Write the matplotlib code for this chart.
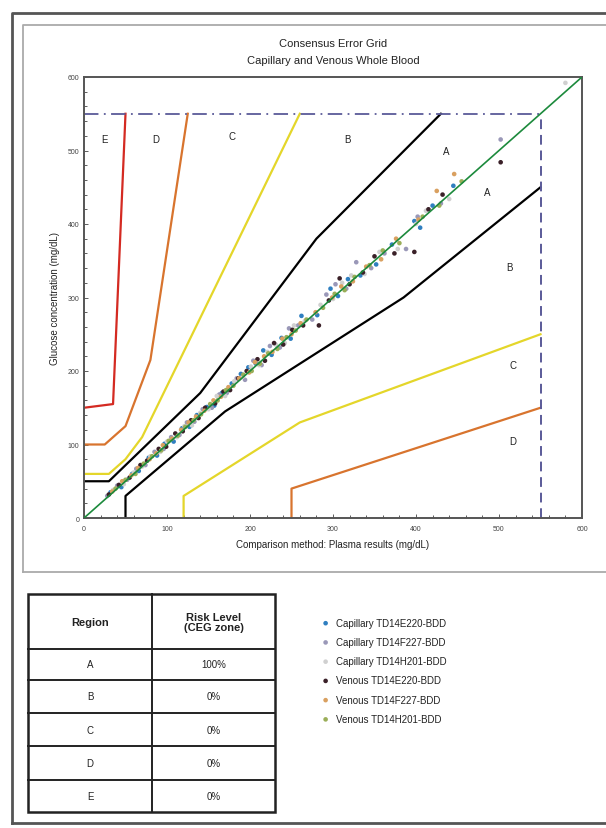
import matplotlib
matplotlib.use("Agg")
import matplotlib.pyplot as plt
from matplotlib.patches import Rectangle

plt.rcParams['font.family'] = ['Liberation Sans', 'DejaVu Sans']

# --- zone boundaries of the consensus error grid (mg/dL) ---
ab_upper_x = [0, 30, 140, 280, 430]
ab_upper_y = [50, 50, 170, 380, 550]
ab_lower_x = [50, 50, 170, 385, 550]
ab_lower_y = [0, 30, 145, 300, 450]
bc_upper_x = [0, 30, 50, 70, 260]
bc_upper_y = [60, 60, 80, 110, 550]
bc_lower_x = [120, 120, 260, 550]
bc_lower_y = [0, 30, 130, 250]
cd_upper_x = [0, 25, 50, 80, 125]
cd_upper_y = [100, 100, 125, 215, 550]
cd_lower_x = [250, 250, 550]
cd_lower_y = [0, 40, 150]
de_upper_x = [0, 35, 50]
de_upper_y = [150, 155, 550]

zone_labels = ["E", "D", "C", "B", "A", "A", "B", "C", "D"]
zone_label_x = [25, 86, 178, 317, 437, 486, 513, 517, 516]
zone_label_y = [516, 516, 520, 516, 499, 443, 341, 208, 105]

# --- measured points (reference vs meter) ---
cap_e220_x = [32, 45, 58, 66, 78, 88, 97, 108, 118, 127, 136, 148, 157, 166, 178, 189, 198,
              207, 216, 226, 238, 249, 262, 281, 297, 306, 318, 333, 352, 371, 398, 405, 420, 445]
cap_e220_y = [35, 42, 60, 64, 82, 85, 101, 104, 122, 124, 140, 151, 153, 170, 183, 196, 205,
              210, 228, 222, 245, 244, 275, 276, 312, 302, 325, 330, 345, 372, 404, 395, 425, 452]
cap_f227_x = [28, 40, 52, 63, 74, 85, 96, 105, 115, 124, 133, 143, 154, 163, 172, 184, 194,
              204, 214, 224, 236, 247, 258, 275, 292, 303, 316, 328, 346, 362, 388, 402, 430, 502]
cap_f227_y = [30, 44, 52, 67, 72, 90, 94, 110, 113, 130, 131, 148, 150, 168, 170, 190, 188,
              214, 208, 234, 232, 258, 262, 270, 304, 318, 312, 348, 340, 360, 366, 410, 428, 515]
cap_h201_x = [35, 48, 60, 70, 80, 92, 100, 112, 121, 130, 140, 150, 160, 170, 181, 191, 201,
              211, 221, 231, 242, 253, 266, 285, 300, 311, 322, 338, 356, 378, 400, 412, 440, 580]
cap_h201_y = [38, 46, 62, 70, 84, 90, 104, 110, 125, 126, 143, 148, 166, 166, 186, 192, 206,
              208, 226, 236, 238, 262, 268, 290, 298, 320, 330, 332, 362, 366, 400, 418, 434, 592]
ven_e220_x = [30, 42, 55, 68, 76, 90, 99, 110, 119, 129, 138, 146, 158, 168, 176, 186, 196,
              209, 218, 229, 240, 251, 264, 283, 295, 308, 320, 336, 350, 374, 398, 415, 432, 502]
ven_e220_y = [32, 45, 55, 72, 78, 94, 97, 115, 118, 133, 136, 150, 156, 172, 174, 190, 200,
              216, 214, 238, 236, 256, 262, 262, 296, 326, 318, 334, 356, 360, 362, 420, 440, 484]
ven_f227_x = [34, 46, 57, 65, 79, 87, 95, 106, 117, 126, 135, 145, 156, 165, 174, 187, 199,
              206, 217, 227, 239, 250, 261, 279, 299, 310, 324, 340, 358, 376, 403, 425, 446]
ven_f227_y = [36, 50, 58, 68, 80, 88, 99, 108, 120, 130, 138, 146, 160, 165, 178, 190, 198,
              212, 220, 226, 244, 250, 265, 280, 300, 315, 322, 342, 352, 380, 406, 445, 468]
ven_h201_x = [38, 50, 62, 72, 82, 93, 102, 113, 122, 132, 141, 152, 161, 171, 180, 192, 202,
              212, 222, 233, 244, 255, 268, 288, 302, 314, 326, 344, 360, 380, 408, 428, 455]
ven_h201_y = [40, 52, 60, 74, 84, 92, 105, 112, 124, 133, 141, 155, 160, 174, 180, 195, 200,
              210, 224, 230, 246, 255, 270, 286, 305, 310, 328, 344, 364, 374, 410, 425, 458]

series_names = ["Capillary TD14E220-BDD", "Capillary TD14F227-BDD", "Capillary TD14H201-BDD",
                "Venous TD14E220-BDD", "Venous TD14F227-BDD", "Venous TD14H201-BDD"]
series_colors = ["#2f7fc0", "#9a98b8", "#d0d0d0", "#3a2028", "#d9a060", "#9aae58"]
series_x = [cap_e220_x, cap_f227_x, cap_h201_x, ven_e220_x, ven_f227_x, ven_h201_x]
series_y = [cap_e220_y, cap_f227_y, cap_h201_y, ven_e220_y, ven_f227_y, ven_h201_y]

regions = ["A", "B", "C", "D", "E"]
risk_levels = ["100%", "0%", "0%", "0%", "0%"]

fig = plt.figure(figsize=(6.06, 8.29), dpi=100)

# overlay in pixel coordinates for frames, titles and the table
ov = fig.add_axes([0, 0, 1, 1], zorder=0)
ov.set_xlim(0, 606)
ov.set_ylim(829, 0)
ov.axis("off")
ov.plot([12, 12, 620], [824, 14, 14], color="#555555", lw=2.0)
ov.plot([12, 620], [824, 824], color="#555555", lw=2.0)
ov.plot([23, 23, 620], [573, 26, 26], color="#aaaaaa", lw=1.3)
ov.plot([23, 620], [573, 573], color="#aaaaaa", lw=1.3)

ov.text(333, 44, "Consensus Error Grid", ha="center", va="center", fontsize=8, color="#222222")
ov.text(333, 61, "Capillary and Venous Whole Blood", ha="center", va="center", fontsize=8,
        color="#222222")

# table
tx0, tx1, tx2 = 28, 152, 275
row_edges = [595, 650, 681, 714, 747, 781, 813]
ov.add_patch(Rectangle((tx0, row_edges[0]), tx2 - tx0, row_edges[-1] - row_edges[0],
                       fill=False, ec="#222222", lw=1.8))
ov.plot([tx1, tx1], [row_edges[0], row_edges[-1]], color="#222222", lw=1.4)
for yy in row_edges[1:-1]:
    ov.plot([tx0, tx2], [yy, yy], color="#222222", lw=1.4)
ov.text((tx0 + tx1) / 2, 623, "Region", ha="center", va="center", fontsize=8, weight="bold",
        color="#222222")
ov.text((tx1 + tx2) / 2, 623, "Risk Level\n(CEG zone)", ha="center", va="center", fontsize=8,
        weight="bold", color="#222222", linespacing=1.1)
for i, (reg, risk) in enumerate(zip(regions, risk_levels)):
    yc = (row_edges[i + 1] + row_edges[i + 2]) / 2
    ov.text((tx0 + tx1) / 2, yc, reg, ha="center", va="center", fontsize=7, color="#222222")
    ov.text((tx1 + tx2) / 2, yc, risk, ha="center", va="center", fontsize=7, color="#222222")

# main grid axes
ax = fig.add_axes([84 / 606, 1 - 519 / 829, 498 / 606, 441 / 829], zorder=1)
ax.set_xlim(0, 600)
ax.set_ylim(0, 600)
ax.set_facecolor("white")

ax.plot(ab_upper_x, ab_upper_y, color="black", lw=1.6)
ax.plot(ab_lower_x, ab_lower_y, color="black", lw=1.6)
ax.plot(bc_upper_x, bc_upper_y, color="#e4d62a", lw=1.6)
ax.plot(bc_lower_x, bc_lower_y, color="#e4d62a", lw=1.6)
ax.plot(cd_upper_x, cd_upper_y, color="#d8742e", lw=1.6)
ax.plot(cd_lower_x, cd_lower_y, color="#d8742e", lw=1.6)
ax.plot(de_upper_x, de_upper_y, color="#d42a22", lw=1.6)

ax.plot([0, 550], [550, 550], color="#5a5a98", lw=1.3, ls=(0, (8, 3, 1, 3)))
ax.plot([550, 550], [0, 550], color="#5a5a98", lw=1.4, ls=(0, (5, 3)))

handles = []
for xs, ys, c, name in zip(series_x, series_y, series_colors, series_names):
    h = ax.scatter(xs, ys, s=11, color=c, edgecolors="none", label=name, zorder=3)
    handles.append(h)

ax.plot([0, 600], [0, 600], color="#1c8a3c", lw=1.2, zorder=4)

for lab, lx, ly in zip(zone_labels, zone_label_x, zone_label_y):
    ax.text(lx, ly, lab, ha="center", va="center", fontsize=7, color="#222222")

ax.set_xticks(range(0, 601, 100))
ax.set_yticks(range(0, 601, 100))
ax.set_xticks(range(0, 601, 20), minor=True)
ax.set_yticks(range(0, 601, 20), minor=True)
ax.tick_params(which="both", direction="in", labelsize=5, colors="#444444", length=3, width=0.6)
ax.tick_params(which="minor", length=2)
ax.tick_params(axis="x", pad=5)
for sp in ax.spines.values():
    sp.set_color("#555555")
    sp.set_linewidth(1.4)

ax.set_xlabel("Comparison method: Plasma results (mg/dL)", fontsize=7, color="#222222",
              labelpad=5)
ax.set_ylabel("Glucose concentration (mg/dL)", fontsize=7, color="#222222", labelpad=5)

leg = fig.legend(handles=handles, labels=series_names, loc="upper left",
                 bbox_to_anchor=(312 / 606, 1 - 610 / 829), frameon=False, fontsize=7,
                 handletextpad=0.6, labelspacing=0.95, markerscale=1.0, handlelength=1.0)
for t in leg.get_texts():
    t.set_color("#222222")

fig.savefig("out.png", dpi=100)
